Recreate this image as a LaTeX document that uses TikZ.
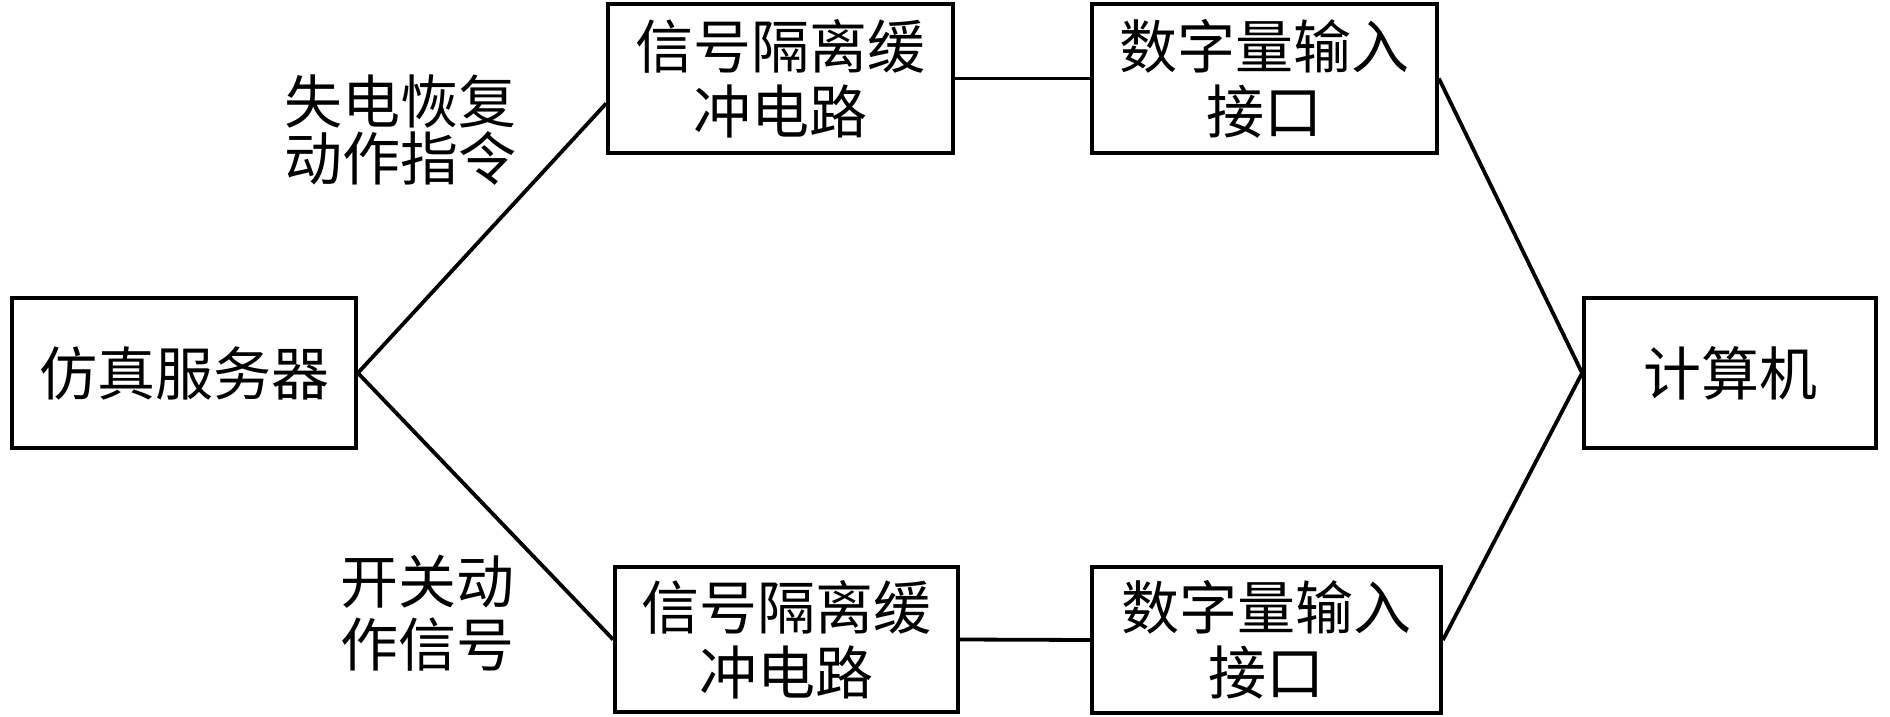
\documentclass[tikz,border=0pt]{standalone}
\usepackage{fontspec}
\newfontfamily\cjk{Noto Sans CJK SC}
\usetikzlibrary{calc}
\tikzset{
  blk/.style={draw=black, line width=3.8pt, rectangle, inner sep=0pt, align=center,
    font=\cjk\fontsize{58}{65}\selectfont},
  lbl/.style={inner sep=0pt, align=center, font=\cjk\fontsize{58}{57}\selectfont},
  lbltwo/.style={inner sep=0pt, align=center, font=\cjk\fontsize{58}{63}\selectfont},
  conn/.style={draw=black, line width=3.8pt}
}
\begin{document}
\begin{tikzpicture}[x=1pt,y=-1pt]
\useasboundingbox (0,0) rectangle (1890,717);
\node[blk, minimum width=344pt, minimum height=150pt] (srv) at (184,373) {仿真服务器};
\node[blk, minimum width=345pt, minimum height=149pt] (iso1) at (780.5,78.5) {信号隔离缓\\冲电路};
\node[blk, minimum width=345pt, minimum height=149pt] (din1) at (1264.5,78.5) {数字量输入\\接口};
\node[blk, minimum width=343pt, minimum height=145pt] (iso2) at (786.5,639.5) {信号隔离缓\\冲电路};
\node[blk, minimum width=349pt, minimum height=146pt] (din2) at (1266.5,640) {数字量输入\\接口};
\node[blk, minimum width=292pt, minimum height=150pt] (pc) at (1730,373) {计算机};
\node[lbl] (l1) at (400,130) {失电恢复\\动作指令};
\node[lbltwo] (l2) at (427,613) {开关动\\作信号};
\draw[conn] (srv.east) -- ([yshift=-25pt]iso1.west);
\draw[conn] (iso1.east) -- (din1.west);
\draw[conn] (din1.east) -- (pc.west);
\draw[conn] (srv.east) -- (iso2.west);
\draw[conn] (iso2.east) -- (din2.west);
\draw[conn] (din2.east) -- (pc.west);
\end{tikzpicture}
\end{document}
